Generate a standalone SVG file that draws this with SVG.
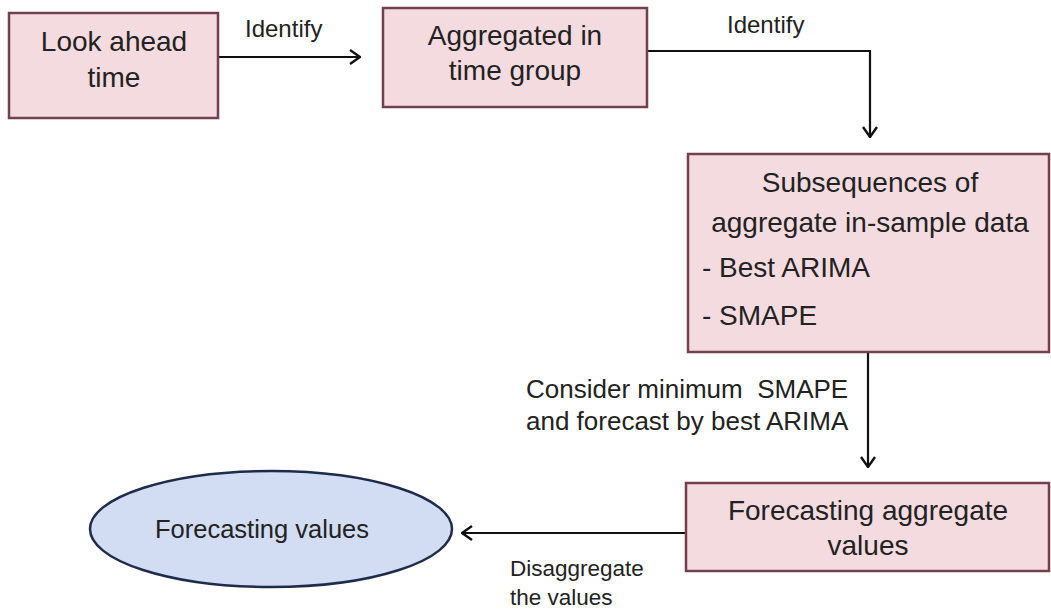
<svg xmlns="http://www.w3.org/2000/svg" width="1051" height="615" viewBox="0 0 1051 615">
  <style>
    .box { fill: #f4dbdf; stroke: #73404d; stroke-width: 2.5; }
    .oval { fill: #d2dcf2; stroke: #1f2b4a; stroke-width: 2.5; }
    .node-text { font-family: "Liberation Sans", Arial, sans-serif; font-size: 28px; fill: #222; text-anchor: middle; }
    .list-text { font-family: "Liberation Sans", Arial, sans-serif; font-size: 28px; fill: #222; }
    .label { font-family: "Liberation Sans", Arial, sans-serif; font-size: 22.5px; fill: #222; }
    .big-label { font-size: 26px; white-space: pre; }
    .edge { fill: none; stroke: #111; stroke-width: 2.2; marker-end: url(#arrow); }
  </style>
  <defs>
    <marker id="arrow" viewBox="0 0 12 16" refX="11" refY="8" markerWidth="12" markerHeight="16" markerUnits="userSpaceOnUse" orient="auto">
      <path d="M1,1 L11,8 L1,15" fill="none" stroke="#111" stroke-width="2.4"/>
    </marker>
  </defs>

  <rect width="1051" height="615" fill="#ffffff"/>

  <!-- connectors -->
  <g id="connectors">
    <path class="edge" d="M219,57 L360,57"/>
    <path class="edge" d="M647,51 L870,51 L870,137"/>
    <path class="edge" d="M868,352 L868,467"/>
    <path class="edge" d="M686,533 L462,533"/>
    <text class="label" x="245" y="37" style="font-size:24px">Identify</text>
    <text class="label" x="727" y="33" style="font-size:24px">Identify</text>
    <text class="label big-label" x="526" y="398">Consider minimum  SMAPE</text>
    <text class="label big-label" x="526" y="430">and forecast by best ARIMA</text>
    <text class="label" x="510" y="576">Disaggregate</text>
    <text class="label" x="510" y="605">the values</text>
  </g>

  <g id="look-ahead">
    <rect class="box" x="9" y="13" width="209" height="105"/>
    <text class="node-text" x="114" y="51">Look ahead</text>
    <text class="node-text" x="114" y="87">time</text>
  </g>

  <g id="aggregated">
    <rect class="box" x="383" y="8" width="264" height="99"/>
    <text class="node-text" x="515" y="45">Aggregated in</text>
    <text class="node-text" x="515" y="80">time group</text>
  </g>

  <g id="subsequences">
    <rect class="box" x="688" y="154" width="361" height="198"/>
    <text class="node-text" x="870" y="192">Subsequences of</text>
    <text class="node-text" x="870" y="232">aggregate in-sample data</text>
    <text class="list-text" x="702" y="277">- Best ARIMA</text>
    <text class="list-text" x="702" y="325">- SMAPE</text>
  </g>

  <g id="forecast-aggregate">
    <rect class="box" x="686" y="483" width="363" height="88"/>
    <text class="node-text" x="868" y="520">Forecasting aggregate</text>
    <text class="node-text" x="868" y="555">values</text>
  </g>

  <g id="forecast-values">
    <ellipse class="oval" cx="271" cy="529" rx="181" ry="58"/>
    <text class="node-text" x="262" y="538" style="font-size:25.5px">Forecasting values</text>
  </g>
</svg>
